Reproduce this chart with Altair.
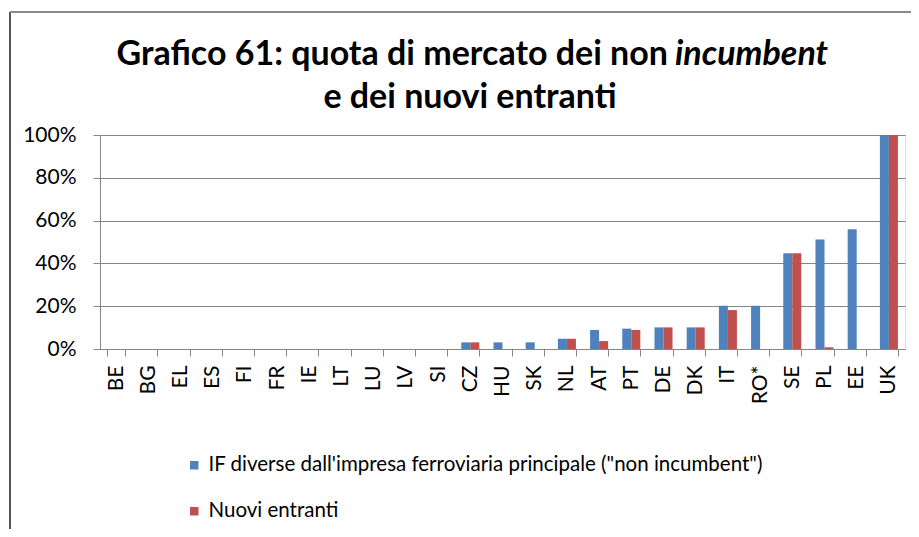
import altair as alt
import pandas as pd

countries = ["BE", "BG", "EL", "ES", "FI", "FR", "IE", "LT", "LU", "LV", "SI",
             "CZ", "HU", "SK", "NL", "AT", "PT", "DE", "DK", "IT", "RO*", "SE",
             "PL", "EE", "UK"]
non_incumbent = [0, 0, 0, 0, 0, 0, 0, 0, 0, 0, 0,
                 3.1, 3.1, 3.1, 4.8, 8.9, 9.5, 10.1, 10.1, 20.2, 20.2, 44.7,
                 51.2, 55.9, 100]
new_entrants = [0, 0, 0, 0, 0, 0, 0, 0, 0, 0, 0,
                3.1, 0, 0, 4.8, 3.7, 8.9, 10.1, 10.1, 18.2, 0, 44.7,
                0.8, 0, 100]
series = ['IF diverse dall\'impresa ferroviaria principale ("non incumbent")',
          "Nuovi entranti"]
colors = ["#4F81BD", "#C0504D"]
y_ticks = [0, 20, 40, 60, 80, 100]

title_line1_a = "Grafico 61: quota di mercato dei non"
title_line1_b = "incumbent"
title_line2 = "e dei nuovi entranti"

rows = []
for c, a, b in zip(countries, non_incumbent, new_entrants):
    rows.append({"country": c, "series": series[0], "value": a})
    rows.append({"country": c, "series": series[1], "value": b})
df = pd.DataFrame(rows)

FONT = "Lato"
W, H = 805, 214

bars = alt.Chart(df).mark_bar().encode(
    x=alt.X("country:N", sort=countries,
            scale=alt.Scale(paddingInner=0.44, paddingOuter=0.22),
            axis=alt.Axis(title=None, labelAngle=-90, tickBand="extent",
                          labelFont=FONT, labelFontSize=21, labelColor="#000000",
                          labelPadding=9, tickSize=7, tickColor="#868686",
                          domainColor="#868686", grid=False)),
    xOffset=alt.XOffset("series:N", sort=series),
    y=alt.Y("value:Q", scale=alt.Scale(domain=[0, 100]),
            axis=alt.Axis(title=None, values=y_ticks,
                          labelExpr="datum.value + '%'",
                          labelFont=FONT, labelFontSize=21, labelColor="#000000",
                          labelPadding=17, tickSize=7, tickColor="#868686",
                          domainColor="#868686", gridColor="#868686")),
    color=alt.Color("series:N",
                    scale=alt.Scale(domain=series, range=colors),
                    legend=alt.Legend(title=None, orient="none", legendX=84,
                                      legendY=320, direction="vertical",
                                      symbolType="square", symbolSize=72,
                                      symbolStrokeWidth=0,
                                      labelFont=FONT, labelFontSize=20.5,
                                      labelColor="#000000", labelLimit=0,
                                      rowPadding=25, labelOffset=4)),
)

tdf = pd.DataFrame({"a": [0]})
t1a = alt.Chart(tdf).mark_text(
    text=title_line1_a, font=FONT, fontSize=34, fontWeight="bold",
    align="right", baseline="alphabetic", color="#000000"
).encode(x=alt.value(568), y=alt.value(-70))
t1b = alt.Chart(tdf).mark_text(
    text=title_line1_b, font=FONT, fontSize=34, fontWeight="bold",
    fontStyle="italic", align="left", baseline="alphabetic", color="#000000"
).encode(x=alt.value(575), y=alt.value(-70))
t2 = alt.Chart(tdf).mark_text(
    text=title_line2, font=FONT, fontSize=34, fontWeight="bold",
    align="center", baseline="alphabetic", color="#000000"
).encode(x=alt.value(370), y=alt.value(-27))

frame_left = alt.Chart(tdf).mark_rule(color="#555555", strokeWidth=2).encode(
    x=alt.value(-90), y=alt.value(-123), y2=alt.value(400))
frame_top = alt.Chart(tdf).mark_rule(color="#888888", strokeWidth=2).encode(
    x=alt.value(-90), x2=alt.value(820), y=alt.value(-123))

chart = alt.layer(frame_left, frame_top, bars, t1a, t1b, t2).properties(
    width=W, height=H,
    autosize=alt.AutoSizeParams(type="none"),
    padding={"left": 92, "top": 127, "right": 6, "bottom": 180},
).configure_view(stroke=None).configure(font=FONT)

chart.save("out.html", embed_options={"renderer": "svg", "actions": False})
